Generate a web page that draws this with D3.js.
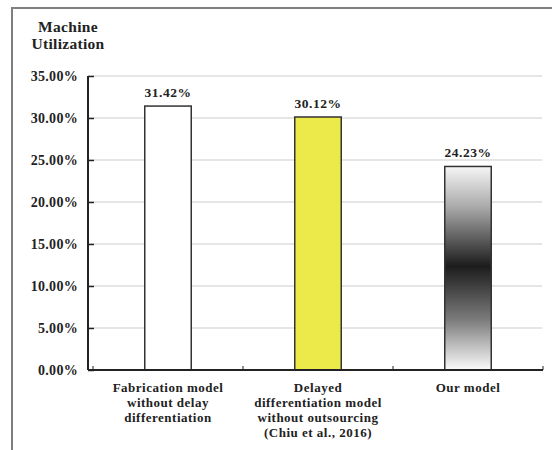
<!DOCTYPE html>
<html>
<head>
<meta charset="utf-8">
<script src="https://cdn.jsdelivr.net/npm/d3@7"></script>
<style>
  html, body { margin: 0; padding: 0; background: #fff; }
  svg text { font-family: "Liberation Serif", "Times New Roman", serif; font-weight: bold; fill: #222; }
</style>
</head>
<body>
<svg id="chart" width="552" height="450"></svg>
<script>
// Machine utilization of the three production models
const categories = [
  ["Fabrication model", "without delay", "differentiation"],
  ["Delayed", "differentiation model", "without outsourcing", "(Chiu et al., 2016)"],
  ["Our model"]
];
const values = [31.42, 30.12, 24.23];
const yTicks = [0, 5, 10, 15, 20, 25, 30, 35];
const titleLines = ["Machine", "Utilization"];

const svg = d3.select("#chart");

// outer frame (top and left edges)
svg.append("path")
  .attr("d", "M12,450 L12,8 L552,8")
  .attr("fill", "none")
  .attr("stroke", "#7f7f7f")
  .attr("stroke-width", 2);

const x = d3.scaleBand()
  .domain(d3.range(values.length))
  .range([93, 543])
  .paddingInner(0.69)
  .paddingOuter(0.345);

const y = d3.scaleLinear().domain([0, 35]).range([370, 76]);

// gridlines
svg.append("g")
  .selectAll("line")
  .data(yTicks.slice(1))
  .join("line")
  .attr("x1", 88).attr("x2", 542)
  .attr("y1", d => y(d)).attr("y2", d => y(d))
  .attr("stroke", "#dcdcdc")
  .attr("stroke-width", 1.5);

// gradient for the last bar
const defs = svg.append("defs");
const grad = defs.append("linearGradient")
  .attr("id", "greyFade")
  .attr("x1", 0).attr("y1", 0).attr("x2", 0).attr("y2", 1);
[[0, "#f6f6f6"], [0.2, "#a9a9a9"], [0.49, "#1c1c1c"], [0.75, "#7a7a7a"], [1, "#fbfbfb"]]
  .forEach(([o, c]) => grad.append("stop").attr("offset", o).attr("stop-color", c));

const fills = ["#ffffff", "#ece94a", "url(#greyFade)"];

svg.append("g")
  .selectAll("rect")
  .data(values)
  .join("rect")
  .attr("x", (d, i) => x(i))
  .attr("y", d => y(d))
  .attr("width", x.bandwidth())
  .attr("height", d => y(0) - y(d))
  .attr("fill", (d, i) => fills[i])
  .attr("stroke", "#333")
  .attr("stroke-width", 1.5);

// value labels
svg.append("g")
  .selectAll("text")
  .data(values)
  .join("text")
  .attr("x", (d, i) => x(i) + x.bandwidth() / 2)
  .attr("y", d => y(d) - 9)
  .attr("text-anchor", "middle")
  .attr("font-size", 13.5)
  .attr("letter-spacing", 0.5)
  .text(d => d.toFixed(2) + "%");

// y axis
const yAxis = d3.axisLeft(y)
  .tickValues(yTicks)
  .tickSize(-6)
  .tickPadding(10)
  .tickFormat(d => d.toFixed(2) + "%");
const gy = svg.append("g").attr("transform", "translate(88,0)").call(yAxis);
gy.select(".domain").attr("stroke", "#222").attr("stroke-width", 2).attr("d", "M0,76V370");
gy.selectAll(".tick line").attr("stroke", "#222").attr("stroke-width", 1.5);
gy.selectAll(".tick text")
  .attr("font-size", 14)
  .attr("letter-spacing", 0.3)
  .attr("font-family", "Liberation Serif, serif")
  .attr("font-weight", "bold")
  .attr("fill", "#222");

// x baseline with small category boundary ticks
svg.append("line")
  .attr("x1", 88).attr("x2", 543)
  .attr("y1", 370).attr("y2", 370)
  .attr("stroke", "#222").attr("stroke-width", 2);
svg.append("g")
  .selectAll("line")
  .data(d3.range(values.length + 1))
  .join("line")
  .attr("x1", i => 93 + i * x.step()).attr("x2", i => 93 + i * x.step())
  .attr("y1", 370).attr("y2", 366)
  .attr("stroke", "#222").attr("stroke-width", 1);

// category labels
svg.append("g")
  .selectAll("text")
  .data(categories)
  .join("text")
  .attr("x", (d, i) => x(i) + x.bandwidth() / 2)
  .attr("y", 392)
  .attr("text-anchor", "middle")
  .attr("font-size", 13)
  .attr("letter-spacing", 0.5)
  .selectAll("tspan")
  .data(d => d)
  .join("tspan")
  .attr("x", function () { return d3.select(this.parentNode).attr("x"); })
  .attr("dy", (d, i) => i === 0 ? 0 : 15)
  .text(d => d);

// axis title
svg.append("text")
  .attr("x", 68)
  .attr("y", 32)
  .attr("text-anchor", "middle")
  .attr("font-size", 15.5)
  .attr("letter-spacing", 0.3)
  .selectAll("tspan")
  .data(titleLines)
  .join("tspan")
  .attr("x", 68)
  .attr("dy", (d, i) => i === 0 ? 0 : 17)
  .text(d => d);
</script>
</body>
</html>
